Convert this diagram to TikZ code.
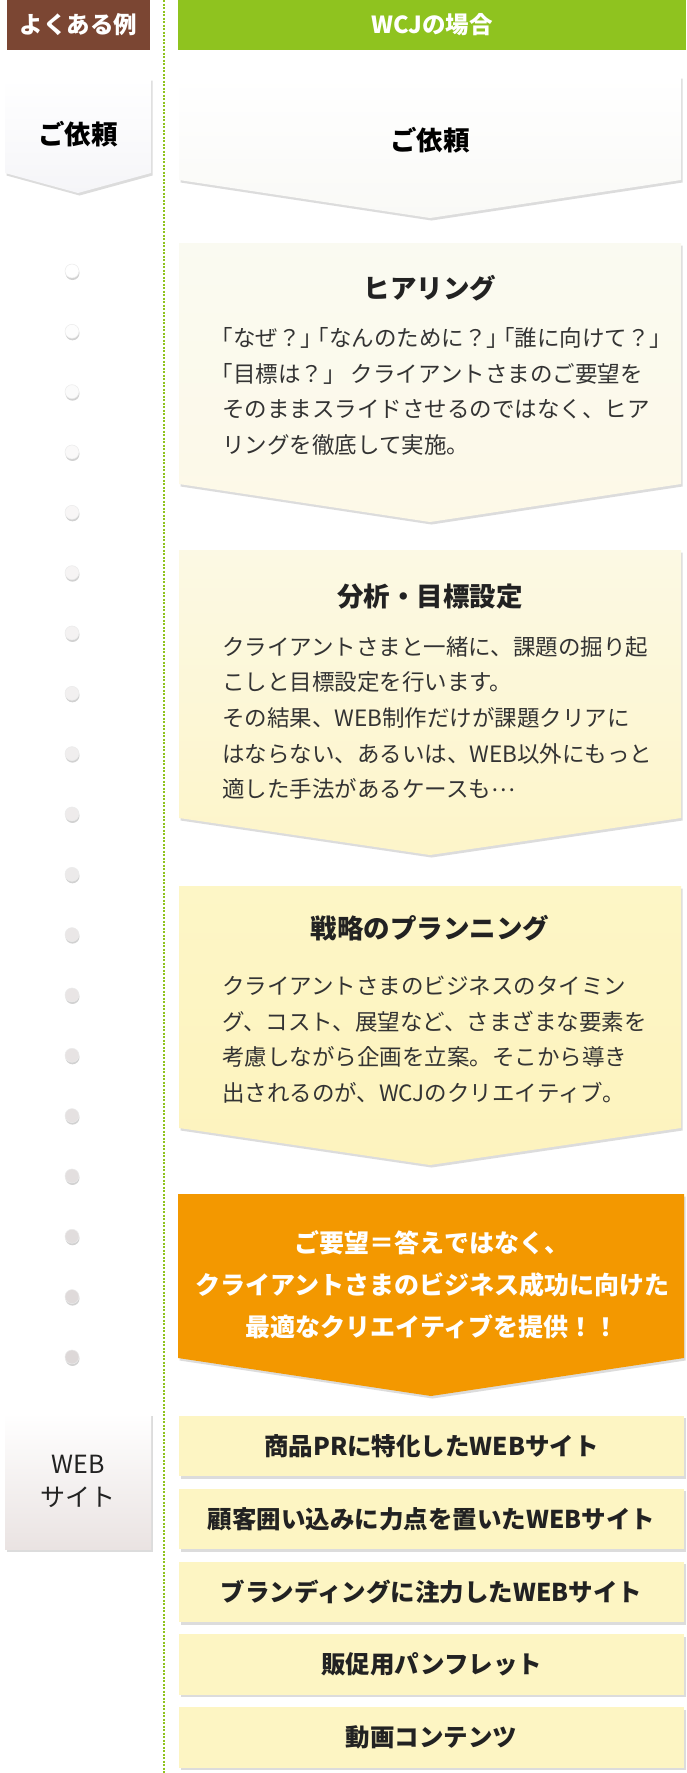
\documentclass[tikz,border=0pt]{standalone}
\usepackage{fontspec}
\setmainfont{Noto Sans CJK JP}
\usetikzlibrary{shadows,positioning}
\definecolor{headbrown}{HTML}{7B4633}
\definecolor{headgreen}{HTML}{8FC31F}
\definecolor{leadorange}{HTML}{F39800}
\definecolor{itemyellow}{HTML}{FDF5C3}
\definecolor{inktext}{HTML}{333333}
\definecolor{inktitle}{HTML}{222222}
\definecolor{dotgray}{HTML}{DDD8D8}
\definecolor{reqbotl}{HTML}{F5F5F8}
\definecolor{reqbotr}{HTML}{F9F9F6}
\definecolor{heartop}{HTML}{FAFAF1}
\definecolor{hearbot}{HTML}{FDF9E7}
\definecolor{anatop}{HTML}{FCF9E4}
\definecolor{anabot}{HTML}{FDF5C9}
\definecolor{strtop}{HTML}{FDF6C6}
\definecolor{strbot}{HTML}{FDF3BE}
\definecolor{webbot}{HTML}{EAE3E2}
\tikzstyle{shadowed} = [drop shadow={shadow xshift=1.5pt, shadow yshift=-2.5pt, opacity=0.3, fill=black!45}]
\tikzstyle{headbox} = [inner sep=0pt, minimum height=50pt, text=white, font=\fontsize{23.5}{27}\selectfont\bfseries]
\tikzstyle{reqtext} = [inner sep=0pt, text=black, font=\fontsize{26.5}{30}\selectfont\bfseries]
\tikzstyle{titletext} = [inner sep=0pt, text=inktitle, font=\fontsize{26.5}{30}\selectfont\bfseries]
\tikzstyle{bodytext} = [inner sep=0pt, anchor=west, align=left, text=inktext, font=\fontsize{22.5}{35.7}\selectfont]
\tikzstyle{leadtext} = [inner sep=0pt, align=center, text=white, font=\fontsize{25}{42}\selectfont\bfseries]
\tikzstyle{itembox} = [shadowed, fill=itemyellow, minimum width=505pt, minimum height=60.5pt, inner sep=0pt, text=inktitle, font=\fontsize{24.5}{28}\selectfont\bfseries]
\tikzstyle{stepdot} = [circle, inner sep=0pt, minimum size=14pt, draw=black!8, line width=0.5pt, drop shadow={shadow xshift=0.5pt, shadow yshift=-2pt, opacity=0.4, fill=black!45}]
\newcommand{\chevron}[6]{\path[#1] (#2,#4) -- (#3,#4) -- (#3,#5) -- ({(#2+#3)/2},#6) -- (#2,#5) -- cycle;}
\newcommand{\hb}{\kern-0.5em}
\newcommand{\hbb}{\kern-0.75em}

\begin{document}
\begin{tikzpicture}[x=1pt, y=-1pt, node distance=12pt]
    \path[use as bounding box, fill=white] (0,0) rectangle (686,1773);
    \coordinate (divtop) at (164,0);
    \coordinate (divbot) at (164,1773);
    \draw[headgreen, line width=2pt, dash pattern=on 2pt off 1.5pt] (divtop) -- (divbot);

    \node[headbox, fill=headbrown, minimum width=143pt] (casehead) at (78.5,25) {よくある例};
    \node[headbox, fill=headgreen, minimum width=508pt] (wcjhead) at (432,25) {WCJの場合};

    \chevron{shadowed, top color=white, bottom color=reqbotl}{5}{151}{78}{173}{193}
    \node[reqtext] (casereq) at (78,134) {ご依頼};

    \foreach \i [evaluate=\i as \tone using int(\i*100/18)] in {0,...,18}
        \node[stepdot, fill=dotgray!\tone!white] (dot\i) at (72,{271+60.33*\i}) {};

    \node[shadowed, top color=white, bottom color=webbot, minimum width=146pt, minimum height=136pt, inner sep=0pt, align=center, text=inktitle, font=\fontsize{25}{33}\selectfont] (casesite) at (78,1481) {WEB\\サイト};

    \chevron{shadowed, top color=white, bottom color=reqbotr}{179}{681}{76}{180}{218}
    \node[reqtext] (wcjreq) at (430,140) {ご依頼};

    \chevron{shadowed, top color=heartop, bottom color=hearbot}{179}{681}{243}{484}{522}
    \node[titletext] (heartitle) at (430,288) {ヒアリング};
    \node[bodytext] (hearbody) at (222,391.5) {\hb「なぜ？」\hbb「なんのために？」\hbb「誰に向けて？」\\\hb「目標は？」 クライアントさまのご要望を\\そのままスライドさせるのではなく、ヒア\\リングを徹底して実施。};

    \chevron{shadowed, top color=anatop, bottom color=anabot}{179}{681}{550}{818}{855}
    \node[titletext] (anatitle) at (430,597) {分析・目標設定};
    \node[bodytext] (anabody) at (222,718) {クライアントさまと一緒に、課題の掘り起\\こしと目標設定を行います。\\その結果、WEB制作だけが課題クリアに\\はならない、あるいは、WEB以外にもっと\\適した手法があるケースも\raisebox{0.3em}{…}};

    \chevron{shadowed, top color=strtop, bottom color=strbot}{179}{681}{886}{1128}{1165}
    \node[titletext] (strtitle) at (430,928) {戦略のプランニング};
    \node[bodytext] (strbody) at (222,1039.5) {クライアントさまのビジネスのタイミン\\グ、コスト、展望など、さまざまな要素を\\考慮しながら企画を立案。そこから導き\\出されるのが、WCJのクリエイティブ。};

    \chevron{shadowed, fill=leadorange}{178}{684}{1194}{1358}{1396}
    \node[leadtext] (lead) at (432,1285) {ご要望＝答えではなく、\\クライアントさまのビジネス成功に向けた\\最適なクリエイティブを提供！！};

    \node[itembox] (item1) at (431.5,1446) {商品PRに特化したWEBサイト};
    \node[itembox, below=of item1] (item2) {顧客囲い込みに力点を置いたWEBサイト};
    \node[itembox, below=of item2] (item3) {ブランディングに注力したWEBサイト};
    \node[itembox, below=of item3] (item4) {販促用パンフレット};
    \node[itembox, below=of item4] (item5) {動画コンテンツ};
\end{tikzpicture}
\end{document}
